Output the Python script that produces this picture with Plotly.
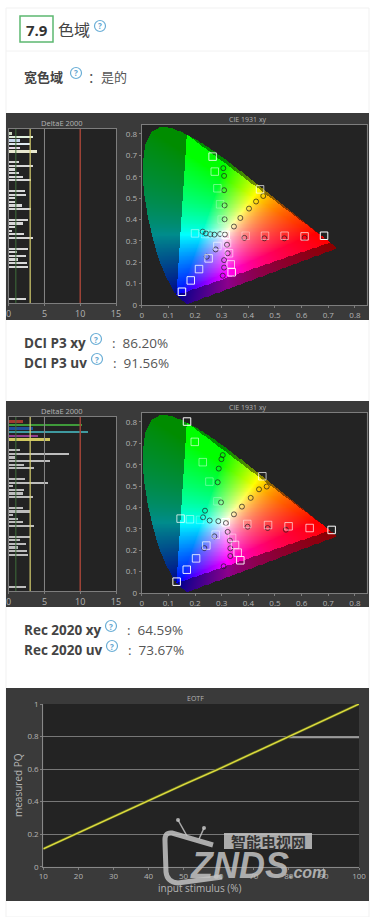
import numpy as np
import plotly.graph_objects as go

W, H = 374, 917

# ---------- data ----------
# DeltaE 2000 rows (row index, dE value) and colours
de_rows = [0,1,2,3,4,5, 8,9,10,11,12,13, 16,17,18,19,20,21, 24,25,26,27,28,29, 32,33,34,35,36,37, 46]
de_p3 = [0.4,3.4,1.5,2.9,1.6,3.9, 1.4,3.4,0.9,1.4,2.0,3.1, 2.3,2.4,0.8,0.9,1.8,3.1,
         2.6,1.9,0.8,0.4,2.1,3.4, 2.7,1.1,2.4,1.3,2.5,2.7, 2.4]
de_2020 = [1.9,10.2,3.3,11.0,4.0,5.7, 1.6,8.4,0.9,5.8,2.1,3.5, 2.3,5.4,0.6,2.1,1.9,3.3,
           2.0,2.9,0.6,1.2,2.0,3.5, 3.0,1.6,2.4,1.2,2.5,2.6, 2.4]
de_ticks = [0, 5, 10, 15]
de_colors_p3 = ["#c9d6c0","#dfeedd","#c4d4ea","#dfeaf0","#e4d8e8","#e8e8d0"] + ["#d8d8d8"]*25
de_colors_2020 = ["#a03a30","#3f9a3a","#1f4f9a","#3f9aa0","#903f8f","#d0c860"] + ["#bdbdbd"]*25

# CIE 1931 spectral locus (x, y)
locus_x = [0.1741,0.1740,0.1738,0.1736,0.1733,0.1726,0.1714,0.1689,0.1644,0.1566,0.1440,0.1241,0.0913,0.0687,0.0454,
           0.0235,0.0082,0.0039,0.0139,0.0389,0.0743,0.1142,0.1547,0.1929,0.2296,0.2658,0.3016,0.3373,0.3731,0.4087,
           0.4441,0.4788,0.5125,0.5448,0.5752,0.6029,0.6270,0.6482,0.6658,0.6801,0.6915,0.7006,0.7079,0.7140,0.7190,
           0.7230,0.7260,0.7283,0.7300,0.7320,0.7347]
locus_y = [0.0050,0.0050,0.0049,0.0049,0.0048,0.0048,0.0051,0.0069,0.0109,0.0177,0.0297,0.0578,0.1327,0.2007,0.2950,
           0.4127,0.5384,0.6548,0.7502,0.8120,0.8338,0.8262,0.8059,0.7816,0.7543,0.7243,0.6923,0.6589,0.6245,0.5896,
           0.5547,0.5202,0.4866,0.4544,0.4242,0.3965,0.3725,0.3514,0.3340,0.3197,0.3083,0.2993,0.2920,0.2859,0.2809,
           0.2770,0.2740,0.2717,0.2700,0.2680,0.2653]
gamut_r, gamut_g, gamut_b = (0.708,0.292), (0.170,0.797), (0.131,0.046)

cie_ticks = [0,0.1,0.2,0.3,0.4,0.5,0.6,0.7,0.8]
cie_ticktext = ["0","0.1","0.2","0.3","0.4","0.5","0.6","0.7","0.8"]

# P3 panel markers
p3_sq_x = [.266,.274,.284,.294,.30,.315,.684,.611,.536,.4625,.39,.151,.184,.215,.251,.284,.3375,.334,.3275,.32,.2,.2375,.275,.444]
p3_sq_y = [.694,.624,.546,.471,.40,.328,.324,.321,.324,.324,.324,.062,.115,.168,.218,.276,.153,.19,.242,.289,.335,.332,.332,.541]
p3_sq_a = [.8,.55,.4,.3,.2,1,1,.7,.55,.45,.35,1,.9,.8,.75,.6,.9,.7,.5,.4,.45,.35,.25,.7]
p3_ci_x = [.306,.309,.309,.311,.311,.456,.429,.4025,.37,.346,.681,.611,.535,.46,.385,.244,.2775,.304,.309,.309,.3225,.32,.229,.241,.2575,.2725,.294,.312]
p3_ci_y = [.64,.604,.537,.466,.401,.51,.484,.451,.407,.367,.32,.314,.312,.312,.314,.226,.26,.137,.175,.21,.242,.282,.343,.335,.331,.329,.332,.33]

# Rec 2020 panel markers
r2_sq_x = [.17,.199,.229,.254,.284,.315,.7125,.63,.551,.474,.396,.131,.169,.204,.2425,.2775,.37,.36,.35,.339,.146,.181,.219,.4525]
r2_sq_y = [.802,.707,.612,.521,.429,.331,.295,.304,.312,.318,.323,.053,.109,.162,.222,.273,.153,.189,.225,.258,.348,.345,.342,.546]
r2_sq_a = [1,.6,.45,.35,.25,1,1,.7,.65,.55,.45,1,.9,.8,.7,.55,.9,.75,.65,.45,.75,.45,.25,.7]
r2_ci_x = [.304,.299,.289,.285,.2975,.469,.44,.409,.376,.346,.541,.4725,.3975,.235,.2725,.3075,.3325,.3325,.331,.3225,.2375,.23,.255,.2875,.316]
r2_ci_y = [.645,.626,.582,.518,.424,.498,.485,.445,.404,.368,.296,.304,.31,.21,.265,.125,.173,.209,.245,.286,.385,.354,.339,.336,.327]

# EOTF
eotf_x = [10,20,30,40,50,60,70,80,90,100]
eotf_y = [0.11,0.21,0.305,0.405,0.505,0.60,0.70,0.80,0.90,1.0]
eotf_ref_x = [80,100]
eotf_ref_y = [0.795,0.795]
eotf_xticks = [10,20,30,40,50,60,70,80,90,100]
eotf_yticks = [0,0.2,0.4,0.6,0.8,1]

# page text
scores = [("DCI P3 xy","86.20%",343,96,339,110),("DCI P3 uv","91.56%",363,97,359,111),
          ("Rec 2020 xy","64.59%",630,111,626,125),("Rec 2020 uv","73.67%",650,112,646,126)]

# ---------- helpers ----------
BG, PLOT, EDGE, TXT = "#3a3a3a", "#232323", "#7d7d7d", "#b4b4b4"
px = lambda v: v / W
py = lambda v: 1 - v / H

fig = go.Figure()
shapes, annos = [], []

def rect(x0, y0, x1, y1, fill, line=None, lw=0, layer="below"):
    shapes.append(dict(type="rect", xref="paper", yref="paper", x0=px(x0), x1=px(x1), y0=py(y0), y1=py(y1),
                       fillcolor=fill, line=dict(color=line or fill, width=lw), layer=layer))

def text(x, y, s, size=13, color="#444", bold=False, family="Open Sans", anchor="left", angle=0):
    annos.append(dict(xref="paper", yref="paper", x=px(x), y=py(y), text=f"<b>{s}</b>" if bold else s, showarrow=False,
                      xanchor=anchor, yanchor="middle", textangle=angle, font=dict(size=size, color=color, family=family)))

def help_icon(cx, cy):
    shapes.append(dict(type="circle", xref="paper", yref="paper", x0=px(cx-5.5), x1=px(cx+5.5), y0=py(cy+5.5), y1=py(cy-5.5),
                       line=dict(color="#6aaed6", width=1.2), fillcolor="rgba(0,0,0,0)"))
    text(cx, cy, "?", size=8, color="#5fa4cf", anchor="center", bold=True)

def layout_axes(i, box, xr, yr, **kw):
    sx = "" if i == 1 else str(i)
    x0, y0, x1, y1 = box
    ax = dict(showline=True, mirror=True, linecolor=EDGE, linewidth=1, ticks="outside", ticklen=2, tickcolor=EDGE,
              tickfont=dict(size=kw.get("size", 8), color=TXT, family="Open Sans"), showgrid=False, zeroline=False)
    fig.layout["xaxis"+sx] = dict(ax, domain=[px(x0), px(x1)], range=xr, anchor="y"+sx, tickvals=kw["xt"], ticktext=kw.get("xl"))
    fig.layout["yaxis"+sx] = dict(ax, domain=[py(y1), py(y0)], range=yr, anchor="x"+sx, tickvals=kw.get("yt"),
                                  ticktext=kw.get("yl"), showticklabels=kw.get("yt") is not None, ticks="outside" if kw.get("yt") is not None else "",
                                  scaleanchor=False)
    rect(x0, y0, x1, y1, PLOT)

def cie_image():
    step = 0.00375
    xs = np.arange(0, 0.844, step)
    ys = np.arange(0, 0.842, step)
    X, Y = np.meshgrid(xs, ys)
    lx, ly = np.array(locus_x), np.array(locus_y)
    inside = np.zeros(X.shape, bool)
    n = len(lx)
    j = n - 1
    for k in range(n):
        cond = (ly[k] > Y) != (ly[j] > Y)
        with np.errstate(divide="ignore", invalid="ignore"):
            xint = (lx[j]-lx[k])*(Y-ly[k])/(ly[j]-ly[k]) + lx[k]
        inside ^= cond & (X < xint)
        j = k
    Ys = np.maximum(Y, 1e-3)
    XX, ZZ = X/Ys, (1-X-Y)/Ys
    R = 3.2406*XX - 1.5372 - 0.4986*ZZ
    G = -0.9689*XX + 1.8758 + 0.0415*ZZ
    B = 0.0557*XX - 0.2040 + 1.0570*ZZ
    rgb = np.clip(np.stack([R, G, B], -1), 0, None)
    rgb = rgb / np.maximum(rgb.max(-1, keepdims=True), 1e-6)
    rgb = rgb ** (1/1.35)
    def side(a, b):
        return (b[0]-a[0])*(Y-a[1]) - (b[1]-a[1])*(X-a[0])
    d1, d2, d3 = side(gamut_r, gamut_g), side(gamut_g, gamut_b), side(gamut_b, gamut_r)
    tri = (d1 >= 0) & (d2 >= 0) & (d3 >= 0)
    scale = np.where(tri, 1.0, 0.55)
    img = np.zeros(X.shape + (4,), np.uint8)
    img[..., :3] = np.clip(rgb * scale[..., None] * 255, 0, 255).astype(np.uint8)
    img[..., 3] = np.where(inside, 255, 0)
    return img, step

IMG, STEP = cie_image()

def add_cie(i, sqx, sqy, sqa, cix, ciy):
    sx = "" if i == 1 else str(i)
    fig.add_trace(go.Image(z=IMG, x0=0, y0=0, dx=STEP, dy=STEP, colormodel="rgba", xaxis="x"+sx, yaxis="y"+sx, hoverinfo="skip"))
    fig.add_trace(go.Scatter(x=cix, y=ciy, mode="markers", xaxis="x"+sx, yaxis="y"+sx,
                             marker=dict(symbol="circle-open", size=5, color="rgba(30,30,30,0.7)", line=dict(width=1))))
    fig.add_trace(go.Scatter(x=sqx, y=sqy, mode="markers", xaxis="x"+sx, yaxis="y"+sx,
                             marker=dict(symbol="square-open", size=7.5, line=dict(width=1),
                                         color=[f"rgba(255,255,255,{a})" for a in sqa])))

def add_de(i, vals, cols):
    sx = "" if i == 1 else str(i)
    fig.add_trace(go.Bar(x=vals, y=de_rows, orientation="h", width=0.5, xaxis="x"+sx, yaxis="y"+sx,
                         marker=dict(color=cols, line=dict(width=0))))
    for v, c, w in [(5,"#858585",1),(10,"#a04438",1.5),(1,"#3d6e3a",1),(3,"#d8d070",1.2)]:
        shapes.append(dict(type="line", xref="x"+sx, yref="y"+sx+" domain", x0=v, x1=v, y0=0, y1=1,
                           line=dict(color=c, width=w), layer="above"))

# ---------- page ----------
rect(6, 8, 369, 917, "#ffffff", "#f1f1f1", 1)
shapes.append(dict(type="line", xref="paper", yref="paper", x0=px(6), x1=px(369), y0=py(51), y1=py(51),
                   line=dict(color="#f2f2f2", width=1), layer="below"))
shapes.append(dict(type="rect", xref="paper", yref="paper", x0=px(20), x1=px(53), y0=py(16), y1=py(42),
                   line=dict(color="#5cb870", width=1.5), fillcolor="#ffffff", layer="below"))
text(36.5, 29.5, "7.9", size=15, bold=True, color="#333", anchor="center")
text(56, 29, "色域", size=16, color="#444", family="Noto Sans CJK SC")
help_icon(100, 26)
text(22, 76.5, "宽色域", size=13, color="#444", family="Noto Sans CJK SC", bold=True)
help_icon(76, 73)
text(86, 76.5, "：是的", size=13, color="#555", family="Noto Sans CJK SC")

for label, val, y, hx, hy, cx in scores:
    text(22, y, label, size=13.5, bold=True, color="#444")
    help_icon(hx, hy)
    text(cx, y, ":  " + val, size=13.5, color="#555")

# ---------- panels ----------
for top, bottom in [(113, 320), (401, 607), (688, 901)]:
    rect(6, top, 369, bottom, BG)

for k, off in enumerate([0, 288]):
    i_de, i_cie = 1 + 2*k, 2 + 2*k
    layout_axes(i_de, (8.7, 129+off, 116, 303+off), [0, 15], [47, -1.3], xt=de_ticks, size=9)
    layout_axes(i_cie, (141.7, 125+off, 366.7, 305+off), [0, 0.844], [0, 0.842], xt=cie_ticks, xl=cie_ticktext,
                yt=cie_ticks, yl=cie_ticktext, size=8)
    text(62, 123+off, "DeltaE 2000", size=7.5, color=TXT, anchor="center")
    text(248, 119+off, "CIE 1931 xy", size=7, color=TXT, anchor="center")

add_de(1, de_p3, de_colors_p3)
add_cie(2, p3_sq_x, p3_sq_y, p3_sq_a, p3_ci_x, p3_ci_y)
add_de(3, de_2020, de_colors_2020)
add_cie(4, r2_sq_x, r2_sq_y, r2_sq_a, r2_ci_x, r2_ci_y)

layout_axes(5, (43.3, 704, 359, 866.7), [10, 100], [0, 1], xt=eotf_xticks, yt=eotf_yticks,
            yl=["0","0.2","0.4","0.6","0.8","1"], size=8)
fig.layout.yaxis5.update(showgrid=True, gridcolor="#777", gridwidth=1)
fig.layout.xaxis5.update(mirror=False, linecolor="#888")
fig.layout.yaxis5.update(mirror=False, linecolor="#888")
fig.add_trace(go.Scatter(x=eotf_ref_x, y=eotf_ref_y, mode="lines", xaxis="x5", yaxis="y5", line=dict(color="#9a9a9a", width=2)))
fig.add_trace(go.Scatter(x=eotf_x, y=eotf_y, mode="lines", xaxis="x5", yaxis="y5", cliponaxis=False, line=dict(color="#5f6a20", width=2.8)))
fig.add_trace(go.Scatter(x=eotf_x, y=eotf_y, mode="lines", xaxis="x5", yaxis="y5", cliponaxis=False, line=dict(color="#e0dc40", width=1.3)))
text(195, 698, "EOTF", size=7, color=TXT, anchor="center")
text(200, 888, "input stimulus (%)", size=10, color=TXT, anchor="center")
text(18, 785, "measured PQ", size=10, color=TXT, anchor="center", angle=-90)

# ---------- watermark ----------
WM = "rgba(195,195,195,0.85)"
def P(x, y):
    return f"{px(x):.5f},{py(y):.5f}"
bracket = ("M " + P(213, 845) + " L " + P(172, 833) + " Q " + P(164, 832) + " " + P(165, 842) +
           " L " + P(166, 872) + " Q " + P(167, 882) + " " + P(178, 883) + " L " + P(222, 877))
shapes.append(dict(type="path", xref="paper", yref="paper", path=bracket, line=dict(color=WM, width=5), layer="above"))
for a, b in [((178, 820), (187, 836)), ((204, 828), (199, 839))]:
    shapes.append(dict(type="line", xref="paper", yref="paper", x0=px(a[0]), y0=py(a[1]), x1=px(b[0]), y1=py(b[1]),
                       line=dict(color=WM, width=1.5), layer="above"))
    shapes.append(dict(type="circle", xref="paper", yref="paper", x0=px(a[0]-2), x1=px(a[0]+2), y0=py(a[1]+2), y1=py(a[1]-2),
                       line=dict(width=0), fillcolor=WM, layer="above"))
rect(224, 833, 312, 849, WM, WM, 0, layer="above")
text(268, 841, "智能电视网", size=15, color="#333", family="Noto Sans CJK SC", anchor="center", bold=True)
text(188, 865, "<i>ZNDS</i>", size=36, color=WM, family="Liberation Sans", bold=True)
text(287, 872, "<i>.com</i>", size=16, color=WM, family="Liberation Sans", bold=True)

fig.update_layout(width=W, height=H, margin=dict(l=0, r=0, t=0, b=0, autoexpand=False), paper_bgcolor="#ffffff", plot_bgcolor="rgba(0,0,0,0)",
                  showlegend=False, shapes=shapes, annotations=annos, bargap=0, hovermode=False)
fig.write_html("out.html", config={"displayModeBar": False},
               post_script="document.body.style.margin='0';document.body.style.overflow='hidden';")
